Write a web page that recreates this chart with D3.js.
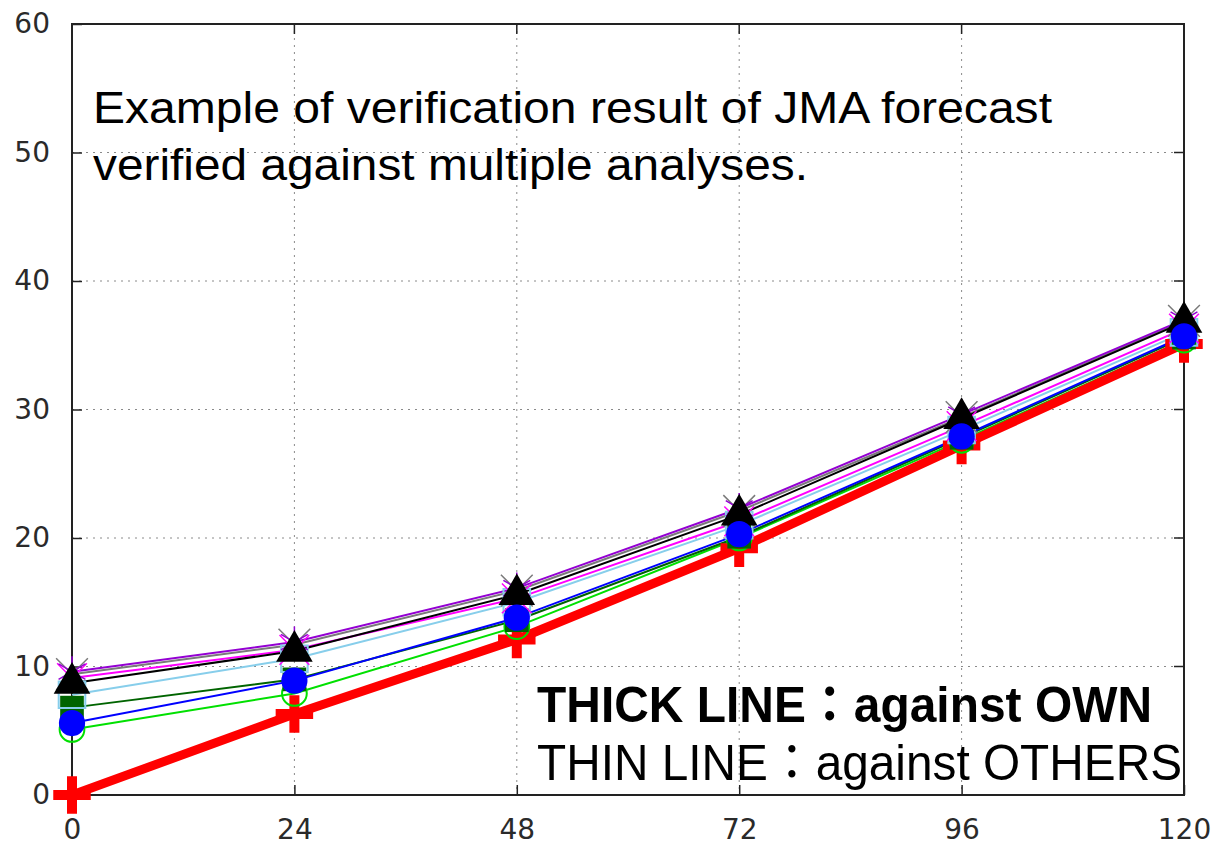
<!DOCTYPE html>
<html>
<head>
<meta charset="utf-8">
<script src="https://cdn.jsdelivr.net/npm/d3@7"></script>
<style>
  body { margin: 0; background: #fff; }
  svg { display: block; }
</style>
</head>
<body>
<svg id="chart" width="1224" height="849"></svg>
<script>
// forecast lead times (hours) and tick labels
var leadTimes = [0, 24, 48, 72, 96, 120];
var xTicks = [0, 24, 48, 72, 96, 120];
var yTicks = [0, 10, 20, 30, 40, 50, 60];

// thick line: JMA forecast against own analysis
var againstOwn = [0, 6.3, 12.1, 19.2, 27.2, 35.1];

// thin lines: JMA forecast against other analyses
var againstGreen = [5.1, 7.9, 13.1, 20.0, 27.6, 35.4];
var againstDarkGreen = [6.8, 9.0, 13.6, 20.1, 27.8, 35.6];
var againstLightBlue = [7.8, 10.6, 15.0, 21.0, 28.4, 36.0];
var againstMagenta = [9.1, 11.3, 15.3, 21.3, 28.7, 36.3];
var againstGray = [9.4, 11.7, 15.9, 22.1, 29.4, 36.9];
var againstPurple = [9.6, 11.9, 16.1, 22.3, 29.6, 37.0];
var againstBlack = [8.7, 11.2, 15.6, 21.8, 29.3, 36.8];
var againstBlue = [5.6, 8.9, 13.8, 20.3, 27.9, 35.7];

var titleLines = ["Example of verification result of JMA forecast",
                  "verified against multiple analyses."];
var noteThick = "THICK LINE\uFF1Aagainst OWN";
var noteThin = "THIN LINE\uFF1Aagainst OTHERS";

var svg = d3.select("#chart");
var plotLeft = 72, plotRight = 1184, plotTop = 24, plotBottom = 795;

var x = d3.scaleLinear().domain([0, 120]).range([plotLeft, plotRight]);
var y = d3.scaleLinear().domain([0, 60]).range([plotBottom, plotTop]);

// grid
var grid = svg.append("g").attr("stroke", "#8a8a8a").attr("stroke-width", 1)
    .attr("stroke-dasharray", "2,5");
grid.selectAll(".gx").data(xTicks.slice(1, -1)).enter().append("line")
    .attr("x1", x).attr("x2", x).attr("y1", plotTop).attr("y2", plotBottom);
grid.selectAll(".gy").data(yTicks.slice(1, -1)).enter().append("line")
    .attr("x1", plotLeft).attr("x2", plotRight).attr("y1", y).attr("y2", y);

// axes (ticks point inward, frame drawn separately)
var axisFont = "'DejaVu Sans', sans-serif";
var xAxis = svg.append("g").attr("transform", "translate(0," + plotBottom + ")")
    .call(d3.axisBottom(x).tickValues(xTicks).tickSize(-10).tickPadding(34).tickSizeOuter(0));
var yAxis = svg.append("g").attr("transform", "translate(" + plotLeft + ",0)")
    .call(d3.axisLeft(y).tickValues(yTicks).tickSize(-10).tickPadding(22).tickSizeOuter(0));
[xAxis, yAxis].forEach(function (a) {
    a.select(".domain").remove();
    a.selectAll("line").attr("stroke", "#222").attr("stroke-width", 1.5);
    a.selectAll("text").attr("font-family", axisFont).attr("font-size", 28).attr("fill", "#2a2a2a");
});
xAxis.selectAll("text").attr("dy", "0.35em");

// mirrored ticks on top and right
svg.append("g").selectAll("line").data(xTicks.slice(1, -1)).enter().append("line")
    .attr("x1", x).attr("x2", x).attr("y1", plotTop).attr("y2", plotTop + 10)
    .attr("stroke", "#222").attr("stroke-width", 1.5);
svg.append("g").selectAll("line").data(yTicks.slice(1, -1)).enter().append("line")
    .attr("x1", plotRight - 10).attr("x2", plotRight).attr("y1", y).attr("y2", y)
    .attr("stroke", "#222").attr("stroke-width", 1.5);

// frame
svg.append("rect").attr("x", plotLeft).attr("y", plotTop)
    .attr("width", plotRight - plotLeft).attr("height", plotBottom - plotTop)
    .attr("fill", "none").attr("stroke", "#222").attr("stroke-width", 2);

// series, in drawing order (bottom first)
var series = [
    {values: againstOwn, color: "#ff0000", width: 9, symbol: d3.symbolPlus, size: 460, filled: false, mw: 10},
    {values: againstGreen, color: "#00e000", width: 2, symbol: d3.symbolCircle, size: 480, filled: false, mw: 2},
    {values: againstDarkGreen, color: "#006400", width: 2, symbol: d3.symbolSquare, size: 560, filled: true},
    {values: againstLightBlue, color: "#87ceeb", width: 2, symbol: d3.symbolSquare2, size: 900, filled: false, mw: 2},
    {values: againstMagenta, color: "#ff00ff", width: 2, symbol: d3.symbolTimes, size: 580, filled: false, mw: 1.5},
    {values: againstGray, color: "#7a7a7a", width: 2, symbol: d3.symbolTimes, size: 660, filled: false, mw: 1.5},
    {values: againstPurple, color: "#9400d3", width: 2, symbol: d3.symbolAsterisk, size: 680, filled: false, mw: 1.5},
    {values: againstBlack, color: "#000000", width: 2, symbol: d3.symbolTriangle, size: 580, filled: true},
    {values: againstBlue, color: "#0000ff", width: 2, symbol: d3.symbolCircle, size: 540, filled: true}
];

var line = d3.line()
    .x(function (d, i) { return x(leadTimes[i]); })
    .y(function (d) { return y(d); });

var plot = svg.append("g");
// thin lines first, then the thick red line on top of them
series.slice(1).forEach(function (s) {
    plot.append("path").attr("d", line(s.values))
        .attr("fill", "none").attr("stroke", s.color).attr("stroke-width", s.width);
});
plot.append("path").attr("d", line(againstOwn))
    .attr("fill", "none").attr("stroke", "#ff0000").attr("stroke-width", series[0].width)
    .attr("stroke-linejoin", "round");

series.forEach(function (s) {
    plot.append("g").selectAll("path").data(s.values).enter().append("path")
        .attr("transform", function (d, i) {
            return "translate(" + x(leadTimes[i]) + "," + y(d) + ")";
        })
        .attr("d", d3.symbol().type(s.symbol).size(s.size))
        .attr("fill", s.filled ? s.color : "none")
        .attr("stroke", s.filled ? "none" : s.color)
        .attr("stroke-width", s.mw || 0);
});

// annotations
var textFont = "'Liberation Sans', Arial, 'Noto Sans CJK JP', sans-serif";
var title = svg.append("g").attr("font-family", textFont).attr("font-size", 44).attr("fill", "#000");
title.append("text").attr("x", 93).attr("y", 123).attr("textLength", 959)
    .attr("lengthAdjust", "spacingAndGlyphs").text(titleLines[0]);
title.append("text").attr("x", 93).attr("y", 180).attr("textLength", 715)
    .attr("lengthAdjust", "spacingAndGlyphs").text(titleLines[1]);

var notes = svg.append("g").attr("font-family", textFont).attr("font-size", 50).attr("fill", "#000");
notes.append("text").attr("x", 537).attr("y", 722).attr("font-weight", "bold")
    .attr("textLength", 615).attr("lengthAdjust", "spacingAndGlyphs").text(noteThick);
notes.append("text").attr("x", 537).attr("y", 780)
    .attr("textLength", 645).attr("lengthAdjust", "spacingAndGlyphs").text(noteThin);
</script>
</body>
</html>
